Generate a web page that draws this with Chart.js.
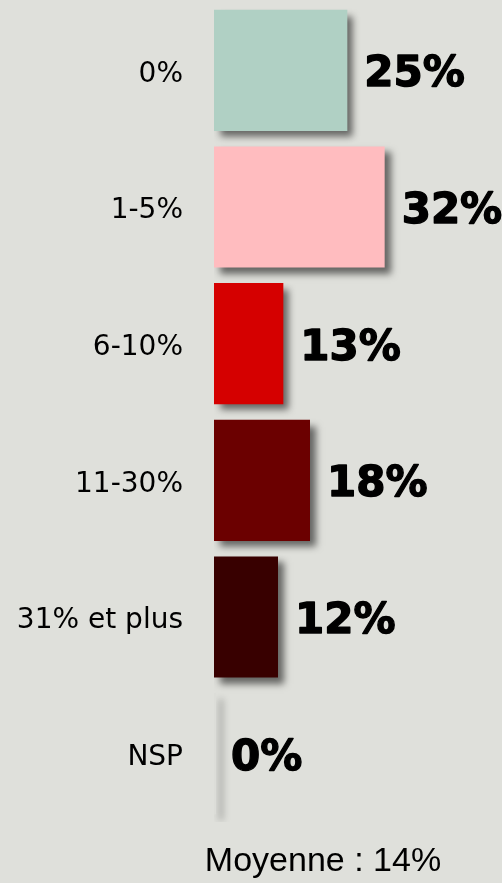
<!DOCTYPE html>
<html>
<head>
<meta charset="utf-8">
<title>Moyenne</title>
<script src="https://cdn.jsdelivr.net/npm/chart.js"></script>
<style>
  html, body { margin: 0; padding: 0; background: #dfe0db; }
  #wrap { width: 502px; height: 883px; position: relative; }
</style>
</head>
<body>
<div id="wrap"><canvas id="chart" width="502" height="883"></canvas></div>
<script>
const categories = ['0%', '1-5%', '6-10%', '11-30%', '31% et plus', 'NSP'];
const values = [25, 32, 13, 18, 12, 0];
const barColors = ['#b0d0c4', '#ffbcbf', '#d50000', '#6b0000', '#380000', '#dcddd8'];
const averageText = 'Moyenne : 14%';

// ombre portée sous les barres
const shadowPlugin = {
  id: 'shadow',
  beforeDatasetsDraw(chart) {
    const ctx = chart.ctx;
    ctx.save();
    ctx.shadowColor = 'rgba(0,0,0,0.55)';
    ctx.shadowOffsetX = 6;
    ctx.shadowOffsetY = 6;
    ctx.shadowBlur = 7;
  },
  afterDatasetsDraw(chart) {
    chart.ctx.restore();
  }
};

// valeurs à droite des barres + moyenne en bas
const labelsPlugin = {
  id: 'valueLabels',
  afterDraw(chart) {
    const ctx = chart.ctx;
    const meta = chart.getDatasetMeta(0);
    ctx.save();
    ctx.fillStyle = '#000';
    ctx.strokeStyle = '#000';
    ctx.lineWidth = 1.4;
    ctx.lineJoin = 'round';
    ctx.font = 'bold 42px "DejaVu Sans"';
    ctx.textBaseline = 'middle';
    ctx.textAlign = 'left';
    meta.data.forEach((bar, i) => {
      const x = chart.scales.x.getPixelForValue(values[i]);
      ctx.fillText(values[i] + '%', x + 17, bar.y + 5);
      ctx.strokeText(values[i] + '%', x + 17, bar.y + 5);
    });
    ctx.font = '34px "Liberation Sans"';
    ctx.textAlign = 'center';
    ctx.fillText(averageText, 323, 862);
    ctx.restore();
  }
};

new Chart(document.getElementById('chart'), {
  type: 'bar',
  data: {
    labels: categories,
    datasets: [{
      data: values,
      backgroundColor: barColors,
      borderWidth: 0,
      categoryPercentage: 1,
      barPercentage: 0.886,
      minBarLength: 2
    }]
  },
  options: {
    indexAxis: 'y',
    responsive: false,
    animation: false,
    layout: { padding: { top: 2, bottom: 61, right: 0, left: 0 } },
    plugins: {
      legend: { display: false },
      tooltip: { enabled: false }
    },
    scales: {
      x: {
        display: false,
        min: 0,
        max: 54
      },
      y: {
        grid: { display: false },
        border: { display: false },
        ticks: {
          color: '#000',
          font: { family: '"DejaVu Sans"', size: 28 },
          padding: 23,
          labelOffset: 4
        },
        afterFit(scale) {
          scale.width = 214;
          scale.paddingTop = 0;
          scale.paddingBottom = 0;
        }
      }
    }
  },
  plugins: [shadowPlugin, labelsPlugin]
});
</script>
</body>
</html>
